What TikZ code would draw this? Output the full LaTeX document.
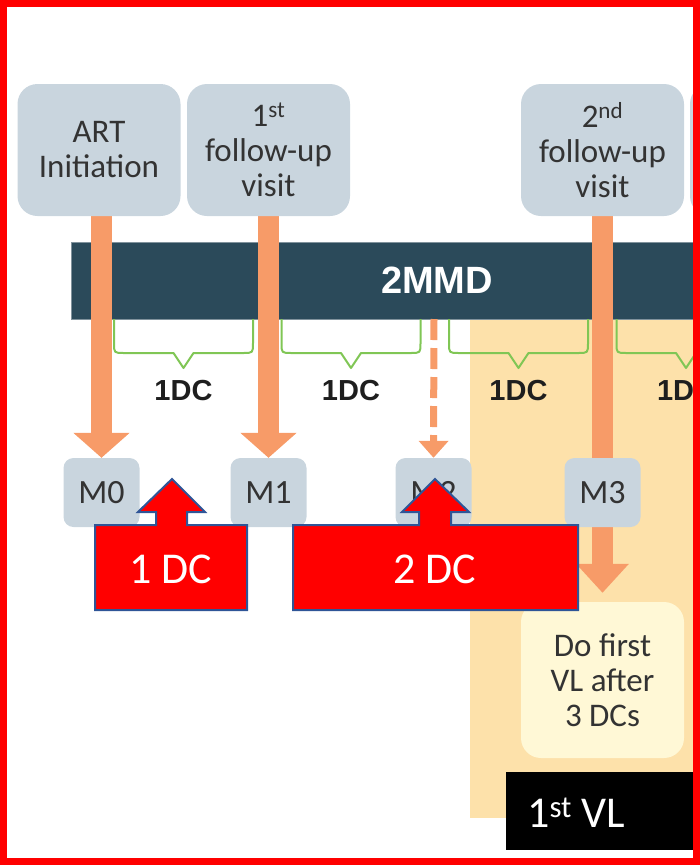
\documentclass[tikz,border=0pt]{standalone}
\usepackage{fontspec}
\setmainfont{Carlito}
\newfontfamily\headsans{Liberation Sans}
\usetikzlibrary{arrows.meta}

\definecolor{boxgrey}{HTML}{C9D5DE}
\definecolor{barblue}{HTML}{2B4A5A}
\definecolor{arrorange}{HTML}{F79B68}
\definecolor{bgorange}{HTML}{FDE1AA}
\definecolor{noteyellow}{HTML}{FFF8D6}
\definecolor{bracegreen}{HTML}{80C655}
\definecolor{textdark}{HTML}{333333}
\definecolor{labeldark}{HTML}{1E1E1E}
\definecolor{calloutred}{HTML}{FF0000}
\definecolor{calloutblue}{HTML}{2F5597}
\definecolor{borderred}{HTML}{FF0000}

\pgfdeclarelayer{backdrop}
\pgfdeclarelayer{links}
\pgfsetlayers{backdrop,links,main}

\tikzset{
  visit/.style={fill=boxgrey, rounded corners=20pt, minimum width=163pt,
    minimum height=132pt, inner sep=0pt, align=center, text=textdark,
    font=\fontsize{33}{35}\selectfont},
  month/.style={fill=boxgrey, rounded corners=10pt, minimum width=76pt,
    minimum height=69pt, inner sep=0pt, text=textdark,
    font=\fontsize{34}{36}\selectfont},
  note/.style={fill=noteyellow, rounded corners=20pt, minimum width=163pt,
    minimum height=156pt, inner sep=0pt, align=center, text=textdark,
    font=\fontsize{33}{35}\selectfont},
  bartext/.style={anchor=base, inner sep=0pt, text=white,
    font=\headsans\bfseries\fontsize{38}{40}\selectfont},
  dclabel/.style={anchor=base, inner sep=0pt, text=labeldark,
    font=\headsans\bfseries\fontsize{29}{30}\selectfont},
  bracket/.style={draw=bracegreen, line width=2pt, line join=round},
  visitlink/.style={draw=arrorange, line width=21pt,
    -{Triangle[width=55pt,length=25pt]}},
  planlink/.style={draw=arrorange, line width=7pt,
    dash pattern=on 21pt off 8pt, -{Triangle[width=29pt,length=17pt]}},
  callout/.style={fill=calloutred, draw=calloutblue, line width=2pt,
    line join=miter},
  callouttext/.style={anchor=base, inner sep=0pt, text=white,
    font=\fontsize{44}{46}\selectfont},
}

\begin{document}
\begin{tikzpicture}[x=1pt,y=-1pt]
\useasboundingbox (0,0) rectangle (700,865);

\begin{scope}
  \clip (0,0) rectangle (694,858);

  % shaded period after the second visit and the timeline bar
  \begin{pgfonlayer}{backdrop}
    \fill[bgorange] (470,319) rectangle (700,818);
    \fill[barblue, draw=barblue!60!white, line width=0.6pt] (71,242) rectangle (701,319);
  \end{pgfonlayer}
  \node[bartext] (mmd) at (437,293) {2MMD};
  \coordinate (dashtop) at (434,319);

  % visits
  \node[visit] (art) at (99,150) {ART\\Initiation};
  \node[visit] (v1) at (268.5,150) {1\textsuperscript{st}\\follow-up\\visit};
  \node[visit] (v2) at (602.5,150) {2\textsuperscript{nd}\\follow-up\\visit};
  \node[visit] (v3) at (771.5,150) {};

  % dispensing brackets
  \foreach \L [count=\i] in {114,281.5,449,616.5} {
    \draw[bracket] (\L,319) -- (\L,343) .. controls (\L,353) .. (\L+10,353)
      -- (\L+59.5,353) -- (\L+69.5,368) -- (\L+79.5,353)
      -- (\L+129,353) .. controls (\L+139,353) .. (\L+139,343) -- (\L+139,319);
    \node[dclabel] (dc\i) at (\L+69.5,400) {1DC};
  }

  % months
  \node[month] (m0) at (101.5,492.5) {M0};
  \node[month] (m1) at (268.5,492.5) {M1};
  \node[month] (m2) at (433.5,492.5) {M2};
  \node[month] (m3) at (602.5,492.5) {M3};

  % first viral load note
  \node[note] (note) at (602.5,680) {Do first\\VL after\\3 DCs};

  % arrows from visits to months
  \begin{pgfonlayer}{links}
    \draw[visitlink] (m0.north |- art.south) -- (m0.north);
    \draw[visitlink] (m1.north |- v1.south) -- (m1.north);
    \draw[planlink] (dashtop) -- (m2.north);
    \draw[visitlink, -{Triangle[width=51pt,length=29pt]}, shorten >=9pt]
      (v2.south) -- (note.north);
  \end{pgfonlayer}

  % dispensing callouts
  \draw[callout] (95,525) -- (156,525) -- (156,512) -- (138,512) -- (172,479)
    -- (205,512) -- (187,512) -- (187,525) -- (247,525) -- (247,610)
    -- (95,610) -- cycle;
  \node[callouttext] (one) at (171,583) {1 DC};
  \draw[callout] (293,525) -- (419,525) -- (419,512) -- (402,512) -- (435,479)
    -- (469,512) -- (451,512) -- (451,525) -- (578,525) -- (578,610)
    -- (293,610) -- cycle;
  \node[callouttext] (two) at (435,583) {2 DC};

  % first viral load tag
  \fill[black] (506,772) rectangle (694,850);
  \node[callouttext, anchor=base west] (vl) at (527,827) {1\textsuperscript{st} VL};
\end{scope}

% frame
\draw[borderred, line width=7pt] (3.5,3.5) rectangle (696.5,861.5);
\end{tikzpicture}
\end{document}
